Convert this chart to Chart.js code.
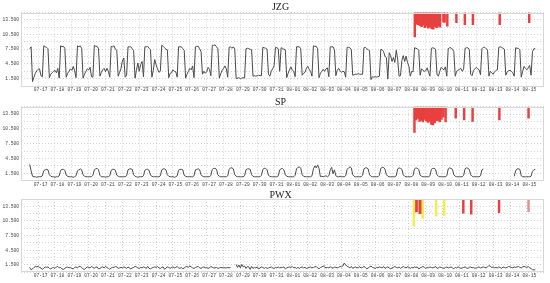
<!DOCTYPE html>
<html>
<head>
<meta charset="utf-8">
<script src="https://cdn.jsdelivr.net/npm/chart.js@4.4.1/dist/chart.umd.min.js"></script>
<style>
  html, body { margin: 0; padding: 0; background: #fff; }
  #wrap { position: relative; width: 550px; height: 283px; overflow: hidden; background: #fff; }
  canvas { position: absolute; left: 0; }
</style>
</head>
<body>
<div id="wrap">
  <canvas id="jzg" width="550" height="94" style="top:0px"></canvas>
  <canvas id="sp" width="550" height="95" style="top:94px"></canvas>
  <canvas id="pwx" width="550" height="94" style="top:189px"></canvas>
</div>
<script>
// x in days, 0 = 07-17 grid line; samples every 2 hours, starting one day earlier
const START_DAY = -1;
const SAMPLES_PER_DAY = 12;

const DAY_LABELS = [
  "07-17", "07-18", "07-19", "07-20", "07-21", "07-22", "07-23", "07-24",
  "07-25", "07-26", "07-27", "07-28", "07-29", "07-30", "07-31", "08-01",
  "08-02", "08-03", "08-04", "08-05", "08-06", "08-07", "08-08", "08-09",
  "08-10", "08-11", "08-12", "08-13", "08-14", "08-15",
];

const Y_LABELS = [1.5, 4.5, 7.5, 10.5, 13.5];
const Y_GRID = [0, 1.5, 3, 4.5, 6, 7.5, 9, 10.5, 12, 13.5, 15];
const ALARM_TOP = 15; // полосы тревог висят от верха

// one row per day: 12h 14h 16h 18h 20h 22h 0h 2h 4h 6h 8h 10h
const JZG = [
  7.6, 8.0, 0.9, 1.8, 2.6, 3.1, 3.4, 3.5, 2.1, 1.9, 8.2, 8.0,
  7.9, 7.6, 1.7, 2.4, 2.7, 3.0, 3.2, 2.7, 3.6, 1.6, 8.2, 8.0,
  8.1, 7.7, 1.8, 2.6, 3.0, 3.5, 3.2, 4.0, 3.1, 1.7, 8.2, 8.0,
  8.2, 7.7, 1.6, 2.4, 3.0, 3.5, 3.3, 3.8, 1.9, 1.8, 8.3, 8.1,
  8.1, 7.6, 2.0, 2.8, 3.3, 3.6, 2.9, 3.6, 3.0, 1.8, 8.1, 8.0,
  8.2, 7.5, 7.3, 2.0, 2.8, 3.6, 5.1, 5.7, 1.8, 2.2, 8.0, 8.0,
  8.0, 7.6, 7.2, 1.6, 3.2, 4.7, 3.0, 4.4, 5.0, 1.9, 8.0, 8.0,
  8.1, 7.7, 7.4, 1.8, 3.2, 5.4, 4.3, 3.5, 2.8, 3.0, 8.3, 8.1,
  7.8, 7.5, 7.4, 1.7, 2.6, 2.7, 3.3, 3.0, 2.9, 1.8, 8.0, 8.0,
  8.0, 7.6, 7.3, 1.6, 2.4, 3.0, 3.6, 3.3, 4.1, 1.7, 8.0, 8.1,
  8.1, 7.6, 7.0, 2.4, 3.0, 2.6, 2.9, 3.8, 3.4, 2.1, 8.3, 8.3,
  8.4, 8.0, 7.6, 1.6, 2.5, 3.2, 3.6, 4.1, 3.5, 1.8, 7.9, 8.0,
  7.7, 8.0, 7.5, 1.5, 1.6, 1.7, 1.5, 1.6, 1.7, 1.6, 7.6, 7.7,
  7.6, 7.5, 7.4, 2.0, 2.1, 2.0, 2.1, 2.2, 2.1, 2.1, 7.9, 7.8,
  7.7, 7.5, 2.4, 2.0, 3.0, 3.5, 4.1, 7.9, 7.8, 7.6, 3.0, 7.8,
  7.7, 7.5, 7.4, 1.7, 2.6, 3.3, 3.9, 3.2, 3.0, 1.9, 8.0, 8.0,
  8.0, 7.6, 2.2, 2.6, 2.8, 3.6, 4.0, 3.4, 3.0, 2.0, 8.2, 8.1,
  8.1, 7.6, 1.7, 2.6, 3.0, 3.4, 3.0, 3.5, 3.7, 1.9, 8.0, 8.0,
  8.0, 7.4, 2.1, 3.2, 3.6, 3.1, 2.8, 3.0, 2.9, 1.8, 7.9, 7.9,
  7.8, 7.4, 2.2, 2.3, 2.4, 2.4, 2.5, 2.4, 2.4, 2.4, 7.8, 7.9,
  7.6, 7.4, 7.2, 1.3, 1.9, 1.8, 1.9, 1.8, 1.9, 2.0, 7.5, 7.4,
  7.0, 6.0, 5.8, 1.4, 6.8, 6.2, 5.0, 5.8, 4.8, 7.3, 5.5, 2.0,
  2.1, 5.2, 6.2, 5.0, 6.1, 4.8, 4.0, 2.0, 3.0, 2.9, 7.8, 7.7,
  7.6, 7.3, 2.2, 3.5, 3.2, 3.0, 3.1, 3.7, 2.8, 2.0, 7.7, 7.8,
  7.7, 7.5, 2.4, 2.0, 3.0, 3.8, 3.5, 3.3, 3.9, 2.0, 7.6, 7.8,
  7.8, 7.5, 7.0, 2.0, 3.0, 3.2, 3.4, 3.6, 3.0, 3.5, 7.7, 7.8,
  7.8, 7.5, 2.4, 2.1, 3.2, 3.5, 3.8, 3.5, 3.3, 2.3, 7.6, 7.9,
  7.9, 7.6, 7.4, 2.0, 3.0, 2.7, 2.4, 2.9, 3.2, 3.3, 7.9, 8.0,
  7.9, 7.7, 7.5, 2.2, 2.9, 3.1, 3.2, 3.0, 2.7, 2.0, 7.8, 7.7,
  7.7, 7.4, 1.8, 3.0, 4.0, 3.6, 3.3, 3.7, 4.2, 2.2, 7.0, 7.6,
  7.6,
];

const SP = [
  3.3, 2.0, 0.9, 0.8, 0.8, 0.7, 0.8, 0.8, 0.8, 1.0, 2.0, 2.2,
  2.3, 2.2, 1.2, 0.9, 0.8, 0.8, 0.7, 0.8, 0.8, 1.0, 2.1, 2.3,
  2.3, 2.1, 1.1, 0.9, 0.8, 0.8, 0.8, 0.7, 0.8, 1.0, 2.0, 2.2,
  2.4, 2.2, 1.2, 0.9, 0.8, 0.8, 0.8, 0.8, 0.8, 1.1, 2.2, 2.4,
  2.5, 2.2, 1.1, 0.8, 0.8, 0.8, 0.7, 0.8, 0.8, 1.0, 2.1, 2.3,
  2.3, 2.1, 1.1, 0.9, 0.8, 0.8, 0.8, 0.8, 0.8, 1.0, 2.2, 2.4,
  2.4, 2.3, 1.2, 0.9, 0.8, 0.7, 0.8, 0.8, 0.8, 1.0, 2.1, 2.3,
  2.3, 2.1, 1.1, 0.9, 0.8, 0.8, 0.8, 0.8, 0.8, 1.0, 2.2, 2.4,
  2.4, 2.2, 1.2, 0.9, 0.8, 0.8, 0.8, 0.7, 0.8, 1.0, 2.1, 2.3,
  2.3, 2.2, 1.1, 0.9, 0.8, 0.8, 0.8, 0.8, 0.8, 1.0, 2.2, 2.3,
  2.4, 2.2, 1.2, 0.9, 0.8, 0.8, 0.8, 0.8, 0.8, 1.1, 2.3, 2.5,
  2.5, 2.3, 1.2, 0.9, 0.8, 0.8, 0.8, 0.8, 0.8, 1.0, 2.3, 2.6,
  2.6, 2.4, 1.2, 0.9, 0.8, 0.8, 0.8, 0.8, 0.8, 1.0, 2.2, 2.4,
  2.4, 2.3, 1.2, 0.9, 0.8, 0.8, 0.8, 0.8, 0.8, 1.1, 2.3, 2.5,
  2.5, 2.2, 1.1, 0.9, 0.8, 0.8, 0.8, 0.8, 0.8, 1.0, 2.2, 2.4,
  2.5, 2.2, 1.2, 0.9, 0.8, 0.8, 0.8, 0.8, 0.8, 1.1, 2.4, 2.7,
  2.8, 2.5, 1.2, 0.9, 0.8, 0.8, 0.8, 0.8, 0.8, 1.0, 2.4, 3.0,
  2.6, 3.2, 2.5, 0.8, 0.9, 0.8, 0.9, 1.0, 0.8, 1.0, 2.2, 2.7,
  1.4, 2.2, 1.0, 0.8, 0.8, 0.9, 0.8, 0.8, 0.8, 1.0, 2.3, 2.6,
  2.8, 2.6, 1.2, 0.9, 0.8, 0.8, 0.8, 0.8, 0.8, 1.1, 2.4, 2.6,
  2.6, 2.4, 1.2, 0.9, 0.8, 0.8, 0.8, 0.8, 0.8, 1.1, 2.5, 2.7,
  2.7, 2.3, 1.2, 0.9, 0.8, 0.8, 0.8, 0.8, 0.8, 1.0, 2.4, 2.6,
  2.5, 2.3, 1.2, 0.9, 0.8, 0.8, 0.8, 0.8, 0.8, 1.1, 2.4, 2.6,
  2.5, 2.3, 1.1, 0.9, 0.8, 0.8, 0.8, 0.8, 0.8, 1.0, 2.3, 2.5,
  2.5, 2.3, 1.2, 0.9, 0.8, 0.8, 0.8, 0.8, 0.8, 1.0, 2.4, 2.6,
  2.5, 2.3, 1.2, 0.9, 0.8, 0.8, 0.8, 0.8, 0.8, 1.1, 2.4, 2.6,
  2.5, 2.3, 1.2, 0.9, 0.8, 0.8, 0.8, 0.8, 0.8, 1.0, 2.2, 2.4,
  null, null, null, null, null, null, null, null, null, null, null, null,
  null, null, null, null, null, null, null, null, null, 0.9, 2.0, 2.4,
  2.4, 2.3, 1.0, 0.8, 0.8, 0.8, 0.8, 0.8, 0.8, 0.9, 1.9, 2.2,
  2.3,
];

const PWX = [
  1.0, 0.5, 0.7, 1.0, 1.2, 1.1, 1.2, 1.0, 0.9, 0.6, 0.8, 1.1,
  1.0, 1.1, 0.8, 0.7, 0.9, 1.0, 0.8, 1.1, 1.2, 0.9, 1.0, 0.7,
  0.6, 0.8, 1.0, 1.1, 0.9, 1.0, 0.8, 0.7, 1.0, 1.1, 0.9, 1.2,
  1.2, 1.0, 0.7, 0.6, 0.9, 1.1, 1.0, 0.9, 1.2, 1.0, 0.8, 1.1,
  1.1, 0.7, 0.8, 1.0, 1.1, 0.9, 1.2, 1.0, 0.8, 0.6, 0.9, 1.0,
  1.0, 1.2, 1.1, 0.8, 0.9, 1.0, 0.9, 1.1, 1.0, 0.8, 1.1, 0.9,
  0.7, 0.9, 1.0, 1.2, 1.1, 0.9, 0.8, 1.0, 0.9, 1.1, 1.0, 0.8,
  1.2, 0.8, 0.7, 0.9, 1.0, 1.1, 1.0, 1.2, 0.9, 0.8, 1.0, 1.1,
  0.6, 0.9, 1.1, 1.0, 0.8, 1.0, 1.1, 0.9, 1.0, 1.2, 0.9, 0.8,
  1.0, 0.7, 0.9, 1.1, 1.2, 1.0, 1.3, 1.1, 0.9, 0.8, 1.0, 1.1,
  1.2, 0.9, 0.8, 1.0, 1.1, 0.9, 1.0, 0.8, 0.9, 1.2, 1.0, 0.9,
  0.9, 1.0, 0.8, 0.9, 1.0, 0.9, 1.0, 0.9, 0.9, 1.0, 0.9, 1.0,
  null, null, null, 1.6, 1.0, 1.5, 0.9, 1.6, 1.1, 1.3, 0.8, 1.2,
  1.1, 0.6, 1.2, 0.8, 1.0, 0.9, 1.1, 0.7, 0.9, 1.1, 1.0, 0.8,
  1.0, 0.8, 0.9, 1.0, 1.1, 0.9, 0.8, 1.0, 0.9, 1.1, 0.9, 1.0,
  1.0, 1.1, 0.7, 0.9, 1.0, 1.1, 1.0, 1.2, 0.9, 1.0, 0.8, 1.0,
  0.8, 1.0, 1.1, 0.9, 1.0, 0.8, 0.9, 1.0, 1.1, 0.9, 1.0, 1.1,
  1.2, 0.9, 0.7, 1.0, 1.1, 1.3, 1.1, 0.9, 1.0, 0.9, 1.1, 1.0,
  0.8, 1.1, 1.0, 0.9, 1.0, 1.2, 1.1, 1.3, 1.9, 1.5, 1.2, 1.1,
  0.9, 1.2, 0.8, 1.0, 1.1, 0.9, 1.0, 1.1, 0.9, 1.0, 1.2, 1.0,
  0.7, 0.9, 1.1, 1.3, 1.0, 0.9, 0.8, 1.0, 0.9, 1.1, 1.0, 0.9,
  1.2, 0.8, 1.0, 1.1, 0.9, 0.7, 0.9, 1.0, 1.2, 1.0, 0.9, 1.1,
  0.8, 1.0, 1.2, 1.0, 0.9, 1.1, 1.0, 0.8, 1.0, 0.9, 1.1, 1.0,
  1.1, 0.7, 0.9, 1.0, 1.2, 1.0, 0.8, 1.0, 0.9, 1.1, 1.0, 0.9,
  1.0, 1.2, 0.8, 0.9, 1.1, 1.0, 0.9, 0.8, 1.0, 1.1, 0.9, 1.0,
  1.1, 0.9, 0.7, 1.0, 0.9, 1.1, 1.0, 0.8, 0.9, 1.0, 1.1, 0.9,
  0.8, 1.0, 1.1, 0.9, 1.0, 0.8, 0.9, 1.0, 1.1, 0.9, 1.0, 1.1,
  1.0, 0.9, 1.1, 1.4, 1.2, 1.0, 1.1, 0.9, 1.0, 0.9, 1.1, 1.0,
  0.8, 1.1, 1.0, 0.9, 1.0, 1.2, 1.1, 1.0, 0.9, 1.1, 1.0, 1.1,
  1.2, 1.0, 0.9, 1.1, 1.2, 1.1, 1.0, 1.2, 0.9, 0.8, 0.5, 0.5,
  0.5,
];

// alarm bars: time (days) and lower end
const JZG_ALARM_T = [
  21.85, 21.95, 22.05, 22.15, 22.25, 22.35, 22.45, 22.55,
  22.65, 22.75, 22.85, 22.95, 23.05, 23.15, 23.25, 23.35,
  23.55, 23.62, 23.78, 24.32, 24.82, 25.30, 26.89, 28.64,
];
const JZG_ALARM_LOW = [
  10.0, 12.6, 12.5, 12.3, 12.1, 12.4, 11.9, 12.2,
  11.8, 12.0, 11.7, 11.6, 12.1, 11.9, 12.2, 12.0,
  13.1, 13.0, 12.2, 12.9, 12.5, 12.5, 12.5, 12.9,
];

const SP_ALARM_T = [
  21.83, 21.93, 22.03, 22.13, 22.23, 22.33, 22.43, 22.53, 22.63,
  22.73, 22.83, 22.93, 23.03, 23.13, 23.23, 23.33, 23.43,
  23.55, 23.68, 24.28, 24.78, 25.28, 26.87, 28.60,
];
const SP_ALARM_LOW = [
  9.8, 12.3, 12.6, 12.0, 12.2, 11.9, 12.4, 12.1, 11.8,
  12.0, 11.4, 11.3, 11.7, 12.1, 12.2, 11.9, 12.4,
  12.9, 11.9, 12.7, 12.3, 12.0, 12.3, 12.7,
];

const PWX_RED_T = [21.88, 21.96, 22.14, 22.22, 24.73, 25.20, 26.85];
const PWX_RED_LOW = [12.3, 12.4, 12.0, 12.0, 12.1, 11.9, 12.2];
const PWX_YELLOW_T = [21.80, 22.32, 23.12, 23.60];
const PWX_YELLOW_LOW = [9.5, 11.0, 11.5, 11.6];
const PWX_PINK_T = [28.60];
const PWX_PINK_LOW = [12.4];

// ---------- helpers ----------
function toPoints(values) {
  return values.map((v, i) => ({ x: START_DAY + i / SAMPLES_PER_DAY, y: v }));
}

function toBars(times, lows) {
  return times.map((t, i) => ({ x: t, y: [lows[i], ALARM_TOP] }));
}

function barSet(times, lows, color) {
  return {
    type: "bar",
    data: toBars(times, lows),
    backgroundColor: color,
    borderWidth: 0,
    barThickness: 1.8,
    grouped: false,
  };
}

const tickFont = { family: '"Liberation Mono", "DejaVu Sans Mono", monospace', size: 4.6 };

// заголовок панели
const panelTitle = {
  id: "panelTitle",
  afterDraw(chart, args, opts) {
    const { ctx, chartArea } = chart;
    ctx.save();
    ctx.font = '10px "Liberation Serif", serif';
    ctx.fillStyle = "#222";
    ctx.textAlign = "center";
    ctx.textBaseline = "middle";
    ctx.fillText(opts.text, (chartArea.left + chartArea.right) / 2 - 2, opts.y);
    ctx.restore();
  },
};

// рамка области графика
const frame = {
  id: "frame",
  afterDatasetsDraw(chart) {
    const { ctx, chartArea } = chart;
    ctx.save();
    ctx.strokeStyle = "#d8d8d8";
    ctx.lineWidth = 1;
    ctx.strokeRect(
      Math.round(chartArea.left) + 0.5,
      Math.round(chartArea.top) + 0.5,
      Math.round(chartArea.right - chartArea.left) - 1,
      Math.round(chartArea.bottom - chartArea.top) - 1
    );
    ctx.restore();
  },
};

function makePanel(id, title, titleY, values, bars, padTop, padBottom) {
  const datasets = [
    {
      type: "line",
      data: toPoints(values),
      borderColor: "#4a4a4a",
      borderWidth: 1,
      pointRadius: 0,
      tension: 0,
      spanGaps: false,
    },
  ].concat(bars);

  return new Chart(document.getElementById(id), {
    type: "line",
    data: { datasets: datasets },
    plugins: [panelTitle, frame],
    options: {
      responsive: false,
      animation: false,
      devicePixelRatio: 1,
      layout: { padding: { top: padTop, right: 6, bottom: padBottom, left: 0 } },
      plugins: {
        legend: { display: false },
        tooltip: { enabled: false },
        panelTitle: { text: title, y: titleY },
      },
      scales: {
        x: {
          type: "linear",
          min: START_DAY,
          max: DAY_LABELS.length - 1,
          afterBuildTicks: (axis) => {
            axis.ticks = DAY_LABELS.map((_, k) => ({ value: k }));
          },
          afterFit: (axis) => {
            axis.height = 8;
          },
          grid: { color: "#d2d2d2", drawTicks: false },
          border: { display: false, dash: [1, 2] },
          ticks: {
            autoSkip: false,
            maxRotation: 0,
            minRotation: 0,
            padding: 1,
            labelOffset: -6,
            font: tickFont,
            color: "#444",
            callback: (v) => DAY_LABELS[Math.round(v)],
          },
        },
        y: {
          min: 0,
          max: 15,
          afterBuildTicks: (axis) => {
            axis.ticks = Y_GRID.map((v) => ({ value: v }));
          },
          afterFit: (axis) => {
            axis.width = 21;
          },
          grid: { color: "#d2d2d2", drawTicks: false },
          border: { display: false, dash: [1, 2] },
          ticks: {
            autoSkip: false,
            padding: 2,
            font: tickFont,
            color: "#444",
            callback: (v) => (Y_LABELS.includes(v) ? v.toFixed(3) : ""),
          },
        },
      },
    },
  });
}

const RED = "#e8403f";
const YELLOW = "#f4ec4c";
const PINK = "#e98c8c";

makePanel("jzg", "JZG", 7.5, JZG, [barSet(JZG_ALARM_T, JZG_ALARM_LOW, RED)], 12.5, 0);
makePanel("sp", "SP", 8.5, SP, [barSet(SP_ALARM_T, SP_ALARM_LOW, RED)], 12.7, 0.3);
makePanel("pwx", "PWX", 6, PWX, [
  barSet(PWX_YELLOW_T, PWX_YELLOW_LOW, YELLOW),
  barSet(PWX_RED_T, PWX_RED_LOW, RED),
  barSet(PWX_PINK_T, PWX_PINK_LOW, PINK),
], 10, 2.7);
</script>
</body>
</html>
